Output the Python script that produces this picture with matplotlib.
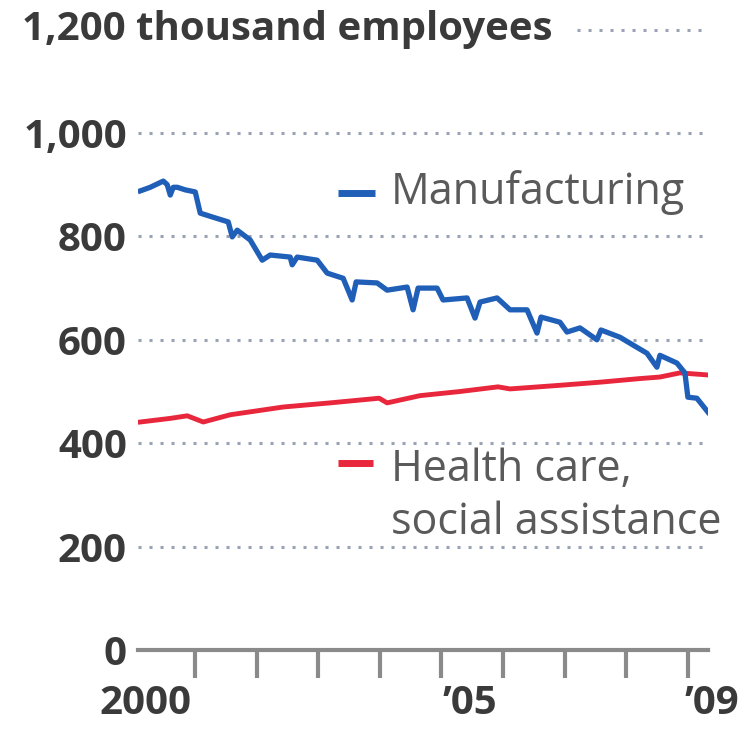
import matplotlib
matplotlib.use("Agg")
import matplotlib.pyplot as plt
from matplotlib.transforms import blended_transform_factory

# ---- data (thousand employees) ----
mfg_x = [2000.107, 2000.269, 2000.481, 2000.545, 2000.594, 2000.643, 2000.708, 2000.838,
         2001.0, 2001.081, 2001.292, 2001.536, 2001.601, 2001.682, 2001.893,
         2002.088, 2002.218, 2002.542, 2002.575, 2002.656, 2002.981,
         2003.143, 2003.403, 2003.549, 2003.614, 2003.955,
         2004.117, 2004.442, 2004.539, 2004.620, 2004.929,
         2005.026, 2005.416, 2005.545, 2005.627, 2005.903,
         2006.114, 2006.390, 2006.552, 2006.617, 2006.925,
         2007.039, 2007.250, 2007.526, 2007.591, 2007.899,
         2008.110, 2008.338, 2008.500, 2008.549, 2008.825, 2008.955,
         2009.003, 2009.149, 2009.330]
mfg_y = [888, 895, 907, 900, 880, 895, 895, 890,
         886, 845, 837, 828, 799, 812, 793,
         754, 764, 760, 745, 760, 754,
         729, 719, 677, 712, 710,
         696, 702, 658, 700, 700,
         677, 681, 642, 673, 681,
         658, 658, 613, 644, 634,
         615, 623, 600, 619, 605,
         590, 574, 547, 570, 555, 536,
         489, 487, 460]

hc_x = [2000.107, 2000.594, 2000.870, 2001.130, 2001.568, 2002.429, 2003.192, 2003.987,
        2004.117, 2004.653, 2005.302, 2005.919, 2006.114, 2006.925, 2007.575, 2008.224,
        2008.549, 2008.873, 2009.328]
hc_y = [441, 448, 453, 441, 455, 470, 478, 487,
        478, 492, 500, 509, 505, 512, 518, 525,
        528, 536, 532]

y_ticks = [0, 200, 400, 600, 800, 1000]
y_tick_labels = ["0", "200", "400", "600", "800", "1,000"]
year_ticks = [2001, 2002, 2003, 2004, 2005, 2006, 2007, 2008, 2009]
x_label_pos = [2000.19, 2005.46, 2009.39]
x_labels = ["2000", "\u201905", "\u201909"]

BLUE = "#1f5fb8"
RED = "#e8263c"
TXT = "#3a3a3a"
LEG = "#5a5a5a"
GRID = "#9aa3b5"
AX = "#8a8a8a"

plt.rcParams["font.family"] = ["Open Sans", "DejaVu Sans"]

W, H = 748, 737
fig = plt.figure(figsize=(W / 100, H / 100), dpi=100)
fig.patch.set_facecolor("white")
left, right = 138, 708
bottom_px, top_px = 650, 29.6
ax = fig.add_axes([left / W, (H - bottom_px) / H, (right - left) / W, (bottom_px - top_px) / H])
ax.set_xlim(2000.07, 2009.33)
ax.set_ylim(0, 1200)

for s in ["top", "right", "left"]:
    ax.spines[s].set_visible(False)
ax.spines["bottom"].set_color(AX)
ax.spines["bottom"].set_linewidth(3)

# gridlines
for v in y_ticks[1:]:
    ax.axhline(v, xmin=0.0, xmax=0.995, color=GRID, lw=2.2, ls=(0, (1, 2.6)), zorder=1)
ax.axhline(1200, xmin=0.77, xmax=0.995, color=GRID, lw=2.2, ls=(0, (1, 2.6)), zorder=1, clip_on=False)

ax.plot(hc_x, hc_y, color=RED, lw=3.5, zorder=3, solid_joinstyle="round")
ax.plot(mfg_x, mfg_y, color=BLUE, lw=3.8, zorder=4, solid_joinstyle="round")

TICKFS = 29
TW = "bold"
ax.set_yticks(y_ticks)
ax.set_yticklabels(y_tick_labels)
ax.tick_params(axis="y", length=0, pad=8, labelsize=TICKFS, labelcolor=TXT)
for t in ax.get_yticklabels():
    t.set_fontweight(TW)
    t.set_fontstretch("condensed")

ax.set_xticks(year_ticks)
ax.set_xticklabels([])
ax.tick_params(axis="x", direction="out", length=20, width=3, color=AX)

tr = ax.get_xaxis_transform()
for xp, lab in zip(x_label_pos, x_labels):
    ax.text(xp, -0.055, lab, transform=tr, ha="center", va="top", fontsize=TICKFS,
            fontweight=TW, fontstretch="condensed", color=TXT, clip_on=False)

# top label
btr = blended_transform_factory(fig.transFigure, ax.transData)
ax.text(22 / W, 1200, "1,200 thousand employees", transform=btr, ha="left", va="center",
        fontsize=TICKFS, fontweight=TW, fontstretch="condensed", color=TXT, clip_on=False)

# legend labels
LFS = 31
ax.plot([2003.32, 2003.92], [884, 884], color=BLUE, lw=5, solid_capstyle="butt")
ax.text(2004.18, 884, "Manufacturing", ha="left", va="center", fontsize=LFS,
        fontstretch="normal", color=LEG)
ax.plot([2003.32, 2003.88], [362, 362], color=RED, lw=5, solid_capstyle="butt")
ax.text(2004.18, 392, "Health care,\nsocial assistance", ha="left", va="top", fontsize=LFS,
        fontstretch="normal", color=LEG, linespacing=1.25)

fig.savefig("out.png", dpi=100, facecolor="white")
